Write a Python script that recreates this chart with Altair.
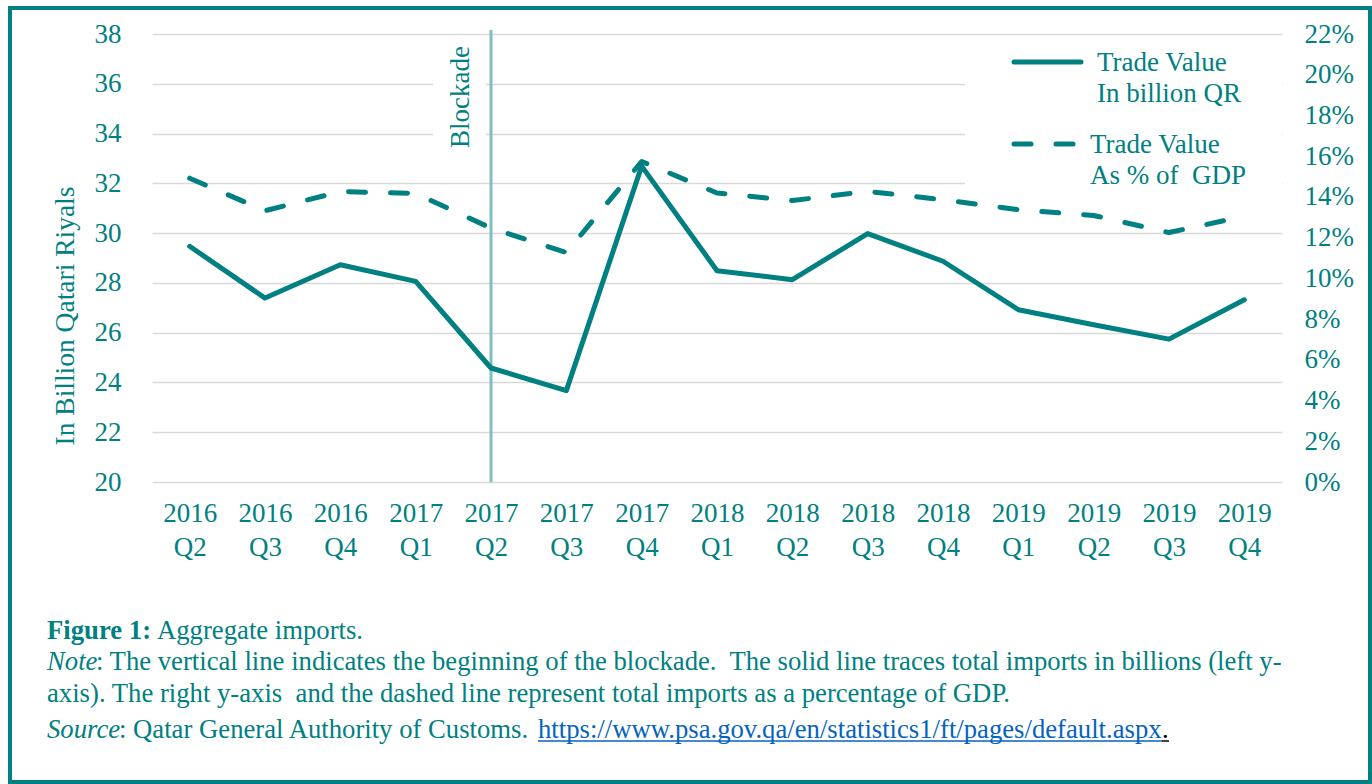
import altair as alt
import pandas as pd

# ---------------- data ----------------
quarters = ["2016 Q2", "2016 Q3", "2016 Q4", "2017 Q1", "2017 Q2", "2017 Q3", "2017 Q4",
            "2018 Q1", "2018 Q2", "2018 Q3", "2018 Q4", "2019 Q1", "2019 Q2", "2019 Q3", "2019 Q4"]
trade_billion = [29.47, 27.39, 28.73, 28.06, 24.58, 23.67, 32.69,
                 28.49, 28.13, 29.98, 28.87, 26.92, 26.32, 25.74, 27.32]
trade_pct_gdp = [0.1492, 0.1332, 0.1426, 0.1417, 0.1247, 0.1127, 0.1574,
                 0.1419, 0.1382, 0.1427, 0.1386, 0.1337, 0.1309, 0.1225, 0.1305]
left_ticks = [20, 22, 24, 26, 28, 30, 32, 34, 36, 38]
right_ticks = [0, 0.02, 0.04, 0.06, 0.08, 0.10, 0.12, 0.14, 0.16, 0.18, 0.20, 0.22]
blockade_quarter = "2017 Q2"

# ---------------- style ----------------
FONT = "Liberation Serif"
TEAL = "#008080"
LIGHT_TEAL = "#7FBFBF"
GRID = "#D9D9D9"
LINK = "#0563C1"
TICK_FS = 27
CAP_FS = 26.7
W, H = 1130, 448
OX, OY = 152, 34  # page position of the plot area

df = pd.DataFrame({"quarter": quarters, "billion": trade_billion, "pct": trade_pct_gdp})

x_enc = alt.X(
    "quarter:N", sort=quarters,
    scale=alt.Scale(type="point", padding=0.5),
    axis=alt.Axis(title=None, labelAngle=0, labelAlign="center", labelExpr="split(datum.label, ' ')",
                  labelLineHeight=34, labelPadding=31, labelFont=FONT, labelFontSize=TICK_FS,
                  labelColor=TEAL, ticks=False, domain=False, grid=False, labelOverlap=False),
)

solid = alt.Chart(df).mark_line(color=TEAL, strokeWidth=5, strokeJoin="round", strokeCap="round").encode(
    x=x_enc,
    y=alt.Y("billion:Q", scale=alt.Scale(domain=[20, 38], nice=False, zero=False),
            axis=alt.Axis(values=left_ticks, title=None, grid=True, gridColor=GRID, gridWidth=1.5,
                          domain=False, ticks=False, labelFont=FONT, labelFontSize=TICK_FS,
                          labelColor=TEAL, labelPadding=31, labelFlush=False)),
)

dashed = alt.Chart(df).mark_line(color=TEAL, strokeWidth=5, strokeDash=[17, 25],
                                 strokeJoin="round", strokeCap="round").encode(
    x=alt.X("quarter:N", sort=quarters),
    y=alt.Y("pct:Q", scale=alt.Scale(domain=[0, 0.22], nice=False),
            axis=alt.Axis(orient="right", values=right_ticks, format=".0%", title=None, grid=False,
                          domain=False, ticks=False, labelFont=FONT, labelFontSize=TICK_FS,
                          labelColor=TEAL, labelPadding=22, labelFlush=False)),
)


def one(text=""):
    return pd.DataFrame({"t": [text]})


def px(v):
    return alt.value(v - OX)


def py(v):
    return alt.value(v - OY)


def label(text, x, y, size=CAP_FS, color=TEAL, **kw):
    return alt.Chart(one(text)).mark_text(
        align=kw.pop("align", "left"), baseline=kw.pop("baseline", "alphabetic"),
        font=FONT, fontSize=size, color=color, **kw
    ).encode(x=px(x), y=py(y), text="t:N")


def box(x1, x2, y1, y2, **kw):
    return alt.Chart(one()).mark_rect(**kw).encode(x=px(x1), x2=px(x2), y=py(y1), y2=py(y2))


def hline(x1, x2, y, color, width, **kw):
    return alt.Chart(one()).mark_rule(color=color, strokeWidth=width, **kw).encode(
        x=px(x1), x2=px(x2), y=py(y))


# white backgrounds behind the legend and the "Blockade" label
legend_bg = box(965, OX + W, 40, 196, fill="white")
blockade_bg = box(433, 486, 40, 160, fill="white")

# vertical blockade line
blockade_rule = alt.Chart(pd.DataFrame({"quarter": [blockade_quarter]})).mark_rule(
    color=LIGHT_TEAL, strokeWidth=3).encode(
    x=alt.X("quarter:N", sort=quarters), y=py(30), y2=py(OY + H))

blockade_text = label("Blockade", 461, 97, size=27, align="center", baseline="middle", angle=270)
y_title = label("In Billion Qatari Riyals", 66, 316, size=27.5, align="center", baseline="middle", angle=270)

# legend
leg_solid = hline(1014, 1081, 62, TEAL, 5, strokeCap="round")
leg_dash = hline(1014, 1073, 144, TEAL, 5, strokeCap="round", strokeDash=[17, 25])
leg_t1 = label("Trade Value", 1097, 71, size=27)
leg_t2 = label("In billion QR", 1097, 102, size=27)
leg_t3 = label("Trade Value", 1090, 153, size=27)
leg_t4 = label("As % of\u00a0 GDP", 1090, 184, size=27)

# outer frame
frame = box(10, 1370, 8, 782, fill="transparent", stroke=TEAL, strokeWidth=4)

# caption
cap = [
    label("Figure 1:", 47, 639, fontWeight="bold"),
    label("Aggregate imports.", 157, 639),
    label("Note", 47, 670, fontStyle="italic"),
    label(": The vertical line indicates the beginning of the blockade.\u00a0 The solid line traces total imports in billions (left y-", 96, 670),
    label("axis). The right y-axis\u00a0 and the dashed line represent total imports as a percentage of GDP.", 47, 702),
    label("Source", 47, 738, fontStyle="italic"),
    label(": Qatar General Authority of Customs.", 119, 738),
    label("https://www.psa.gov.qa/en/statistics1/ft/pages/default.aspx", 538, 738, color=LINK),
    hline(538, 1162, 741, LINK, 1.5),
    label(".", 1162, 738, color="black"),
    hline(1162, 1169, 741, "black", 1.5),
]

chart = alt.layer(
    legend_bg, blockade_bg, blockade_rule, solid, dashed,
    blockade_text, y_title, leg_solid, leg_dash, leg_t1, leg_t2, leg_t3, leg_t4,
    frame, *cap,
).resolve_scale(y="independent").properties(
    width=W, height=H,
    padding={"left": OX, "top": OY, "right": 1372 - OX - W, "bottom": 784 - OY - H},
    autosize=alt.AutoSizeParams(type="none"),
    background="white",
).configure_view(strokeWidth=0)

chart.save("out.html", embed_options={"renderer": "svg", "actions": False})
